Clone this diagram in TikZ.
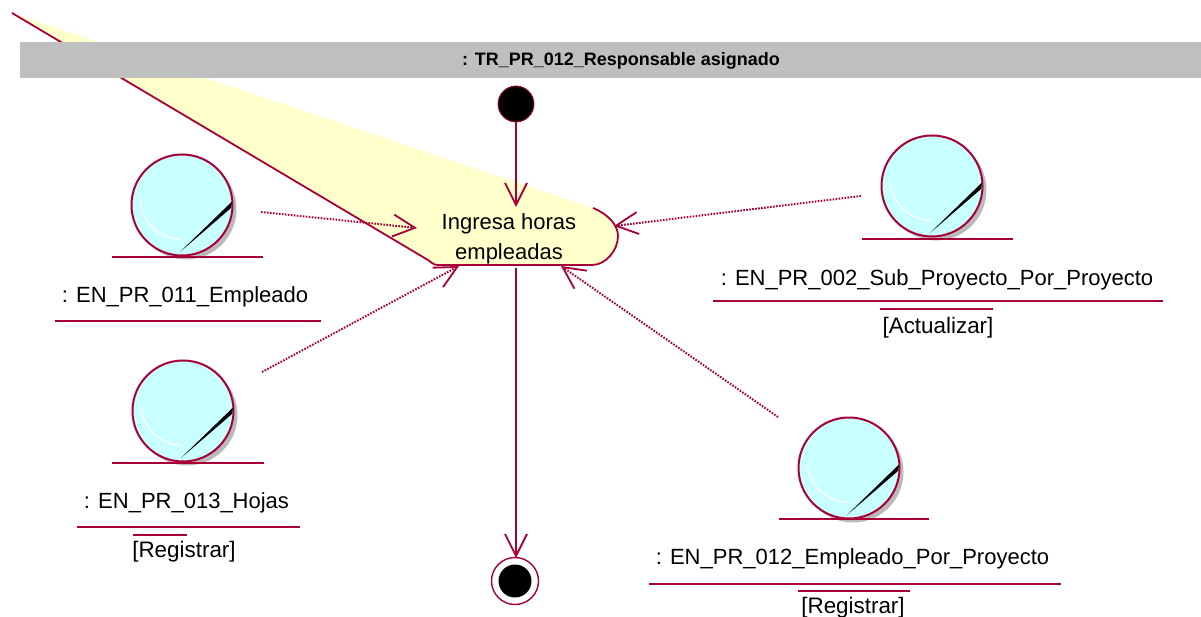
\documentclass[tikz,border=0pt]{standalone}
\usepackage{fontspec}
\setmainfont{Liberation Sans}
\usetikzlibrary{arrows.meta}
\definecolor{rosered}{HTML}{A80036}
\definecolor{notey}{HTML}{FFFFCB}
\definecolor{entity}{HTML}{C8FFFF}
\definecolor{barg}{HTML}{BFBFBF}
\tikzset{
  x=1pt,y=-1pt,
  flow/.style={draw=rosered,line width=1.6pt,-{Straight Barb[length=22pt,width=22pt,line width=1.8pt]}},
  dep/.style={draw=rosered,line width=2pt,dash pattern=on 1.6pt off 1.4pt,-{Straight Barb[length=22pt,width=22pt,line width=1.8pt]}},
  lab/.style={inner sep=0pt,text=black,font=\fontsize{22}{24}\selectfont},
  sublab/.style={inner sep=0pt,text=black,font=\fontsize{22.4}{24}\selectfont},
  rule/.style={draw=rosered,line width=2pt},
  ball/.style={circle,draw=rosered,line width=2pt,fill=entity,minimum size=101pt,inner sep=0pt},
}
\newcommand{\entball}[3]{% name, x, y
  \fill[black!45,opacity=.6] (#2+4,#3+4) circle[radius=50.5];
  \node[ball] (#1) at (#2,#3) {};
  \draw[white,line width=1.3pt] (#2-41.8,#3-4) arc[start angle=175,end angle=92,radius=42];
  \fill[black] (#2+50,#3-3.5) -- (#2+49,#3+3) -- (#2-2,#3+47) -- cycle;
}
\begin{document}
\begin{tikzpicture}
\useasboundingbox (0,0) rectangle (1201,617);
% note wedge / action state
\fill[notey] (12,13) -- (593,208) .. controls (608,214) and (618,225) .. (618,236)
  .. controls (618,250) and (606,265) .. (592,265) -- (436,265) -- cycle;
\draw[rosered,line width=1.8pt] (12,13) -- (428,260) .. controls (432,263) and (434,265) .. (438,265)
  -- (592,265) .. controls (606,265) and (618,250) .. (618,236)
  .. controls (618,225) and (608,214) .. (593,208);
\node[fill=barg,minimum width=1181pt,minimum height=36pt,inner sep=0pt,anchor=north west] (bar) at (20,42) {};
\node[inner sep=0pt,font=\fontsize{18}{20}\selectfont\bfseries] (title) at (621,61) {: TR\_PR\_012\_Responsable asignado};
\node[lab,align=center] (act) at (509,238.5) {\rule{0pt}{17pt}Ingresa horas\\[6pt]empleadas};
% start / end
\node[circle,fill=black,draw=rosered,line width=.8pt,minimum size=36pt,inner sep=0pt] (start) at (516,104) {};
\node[circle,draw=rosered,fill=white,line width=1.4pt,minimum size=47pt,inner sep=0pt] (endo) at (515,581) {};
\node[circle,fill=black,minimum size=33pt,inner sep=0pt] (endi) at (515,581) {};
% entities
\entball{e1}{182}{205}
\entball{e2}{183}{411}
\entball{e3}{932}{186}
\entball{e4}{849}{468}
\draw[rule] (112,257) -- (263,257);
\draw[rule] (112,463) -- (264,463);
\draw[rule] (862,239) -- (1013,239);
\draw[rule] (779,519) -- (929,519);
% labels
\node[lab] (t1) at (185,297) {: EN\_PR\_011\_Empleado};
\draw[rule] (55,321) -- (321,321);
\node[lab] (t2) at (186.5,503) {: EN\_PR\_013\_Hojas};
\draw[rule] (77,527) -- (300,527);
\draw[rule] (133,535) -- (187,535);
\node[sublab] (t2b) at (184,552) {[Registrar]};
\node[lab] (t3) at (937,280) {: EN\_PR\_002\_Sub\_Proyecto\_Por\_Proyecto};
\draw[rule] (713,301) -- (1163,301);
\draw[rule] (880,309) -- (993,309);
\node[sublab] (t3b) at (938,328) {[Actualizar]};
\node[lab] (t4) at (852.5,559) {: EN\_PR\_012\_Empleado\_Por\_Proyecto};
\draw[rule] (649,584) -- (1061,584);
\draw[rule] (798,591) -- (910,591);
\node[sublab] (t4b) at (853,608) {[Registrar]};
% connector ends
\coordinate (actT) at (516,207);
\coordinate (actB) at (516,268);
\coordinate (actL) at (417,228);
\coordinate (actLB) at (459,266);
\coordinate (actRB) at (561,266);
\coordinate (actR) at (614,226);
\coordinate (startB) at (516,122);
\coordinate (endT) at (516,558);
\coordinate (c1) at (261,212);
\coordinate (c2) at (262,372);
\coordinate (c3) at (861,196);
\coordinate (c4) at (778,417);
\draw[flow] (startB) -- (actT);
\draw[flow] (actB) -- (endT);
\draw[dep] (c1) -- (actL);
\draw[dep] (c2) -- (actLB);
\draw[dep] (c3) -- (actR);
\draw[dep] (c4) -- (actRB);
\end{tikzpicture}
\end{document}
